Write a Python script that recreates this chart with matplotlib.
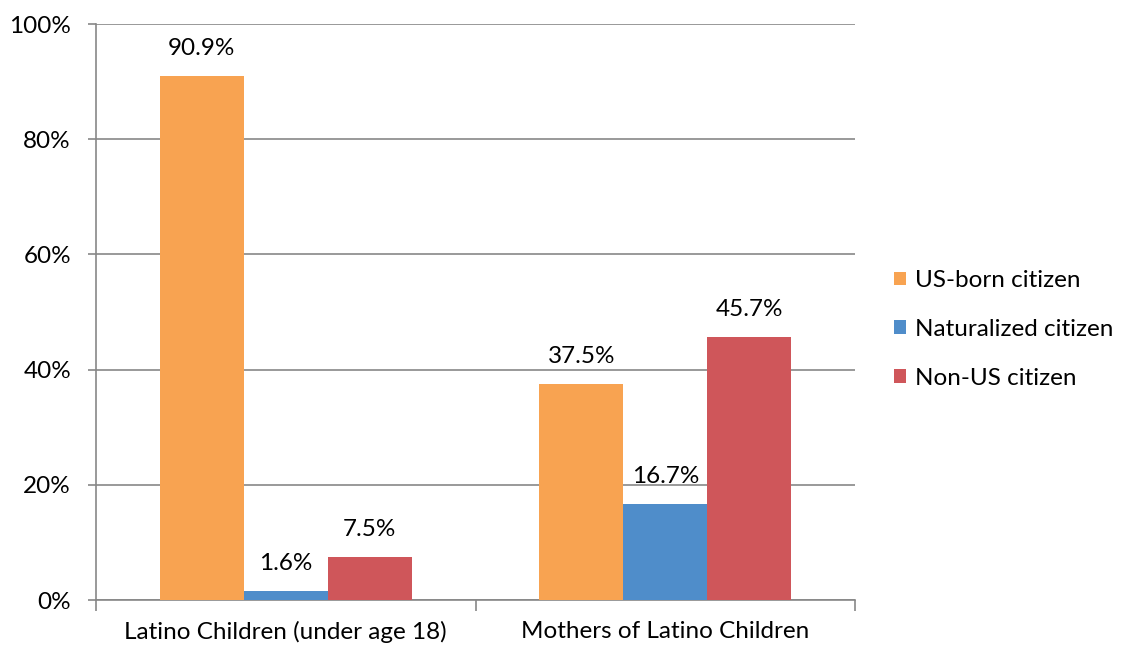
import matplotlib.pyplot as plt
import numpy as np

plt.rcParams['font.family'] = ['Lato', 'DejaVu Sans']

categories = ['Latino Children (under age 18)', 'Mothers of Latino Children']
series = ['US-born citizen', 'Naturalized citizen', 'Non-US citizen']
values = [
    [90.9, 37.5],
    [1.6, 16.7],
    [7.5, 45.7],
]
colors = ['#F8A351', '#4F8DCA', '#CF565A']
fs = 17.5

fig = plt.figure(figsize=(11.24, 6.47), dpi=100)
ax = fig.add_axes([0.0854, 0.0726, 0.6753, 0.8903])

x = np.arange(len(categories))
w = 0.221
for i, (name, vals, col) in enumerate(zip(series, values, colors)):
    pos = x + (i - 1) * w
    ax.bar(pos, vals, width=w, color=col, label=name, zorder=3)
    for xp, v in zip(pos, vals):
        ax.text(xp, v + 3.0, f'{v:.1f}%', ha='center', va='bottom', fontsize=fs, color='black')

ax.set_xlim(-0.5, 1.5)
ax.set_ylim(0, 100)
ax.set_yticks(range(0, 101, 20))
ax.set_yticklabels([f'{t}%' for t in range(0, 101, 20)], fontsize=fs)
ax.yaxis.grid(True, color='#878787', linewidth=1.2, zorder=0)

ax.set_xticks([-0.5, 0.5, 1.5])
ax.set_xticklabels([])
ax.set_xticks(x, minor=True)
ax.set_xticklabels(categories, minor=True, fontsize=fs)
ax.tick_params(axis='x', which='minor', length=0, pad=15)
ax.tick_params(axis='x', which='major', length=8, color='#878787', width=1.2)
ax.tick_params(axis='y', length=6, color='#878787', width=1.2, pad=12)

for s in ['top', 'right']:
    ax.spines[s].set_visible(False)
for s in ['left', 'bottom']:
    ax.spines[s].set_color('#878787')
    ax.spines[s].set_linewidth(1.2)

fig.legend(loc='center left', bbox_to_anchor=(0.776, 0.491), frameon=False,
           fontsize=fs, handlelength=0.47, handleheight=0.47, handletextpad=0.4,
           labelspacing=1.15)

fig.savefig('out.png', dpi=100)
